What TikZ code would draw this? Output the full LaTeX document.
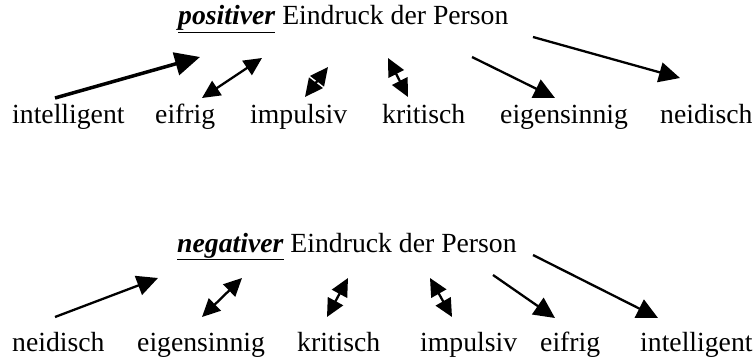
\documentclass[tikz,border=0pt]{standalone}
\usepackage{fontspec}
\setmainfont{Liberation Serif}
\usetikzlibrary{arrows.meta}
\tikzset{
  word/.style={anchor=base west, inner sep=0pt, font=\fontsize{27.7}{30}\selectfont},
  title/.style={anchor=base west, inner sep=0pt, font=\fontsize{27.7}{30}\selectfont},
  arr/.style={line width=2.3pt, -{Triangle[length=21pt,width=20pt]}},
  thickarr/.style={line width=3.5pt, -{Triangle[length=25pt,width=23pt]}},
  dbl/.style={line width=2.3pt, {Triangle[length=18pt,width=17pt]}-{Triangle[length=18pt,width=17pt]}},
}
\begin{document}
\begin{tikzpicture}[x=1pt,y=-1pt]
\useasboundingbox (0,0) rectangle (755,358);
% top block
\node[title] (t1) at (178,25) {\underline{\textbf{\textit{positiver}}} Eindruck der Person};
\node[word] (a1) at (12,124) {intelligent};
\node[word] (a2) at (155,124) {eifrig};
\node[word] (a3) at (250,124) {impulsiv};
\node[word] (a4) at (382,124) {kritisch};
\node[word] (a5) at (500,124) {eigensinnig};
\node[word] (a6) at (660,124) {neidisch};
\coordinate (p1s) at (55,98);  \coordinate (p1e) at (200,57);
\coordinate (p2s) at (202,98); \coordinate (p2e) at (262,58);
\coordinate (p3s) at (305,97); \coordinate (p3e) at (328,67);
\coordinate (p4s) at (388,58); \coordinate (p4e) at (408,97);
\coordinate (p5s) at (472,57); \coordinate (p5e) at (555,98);
\coordinate (p6s) at (533,37); \coordinate (p6e) at (680,78);
\draw[thickarr] (p1s) -- (p1e);
\draw[dbl] (p2s) -- (p2e);
\draw[dbl] (p3s) -- (p3e);
\draw[dbl] (p4s) -- (p4e);
\draw[arr] (p5s) -- (p5e);
\draw[arr] (p6s) -- (p6e);
% bottom block
\node[title] (t2) at (177,252) {\underline{\textbf{\textit{negativer}}} Eindruck der Person};
\node[word] (b1) at (12,351) {neidisch};
\node[word] (b2) at (137,351) {eigensinnig};
\node[word] (b3) at (297,351) {kritisch};
\node[word] (b4) at (420,351) {impulsiv};
\node[word] (b5) at (540,351) {eifrig};
\node[word] (b6) at (640,351) {intelligent};
\coordinate (q1s) at (55,317);  \coordinate (q1e) at (158,278);
\coordinate (q2s) at (202,317); \coordinate (q2e) at (242,278);
\coordinate (q3s) at (327,317); \coordinate (q3e) at (348,278);
\coordinate (q4s) at (430,278); \coordinate (q4e) at (452,317);
\coordinate (q5s) at (493,275); \coordinate (q5e) at (555,318);
\coordinate (q6s) at (533,255); \coordinate (q6e) at (658,318);
\draw[arr] (q1s) -- (q1e);
\draw[dbl] (q2s) -- (q2e);
\draw[dbl] (q3s) -- (q3e);
\draw[dbl] (q4s) -- (q4e);
\draw[arr] (q5s) -- (q5e);
\draw[arr] (q6s) -- (q6e);
\end{tikzpicture}
\end{document}
